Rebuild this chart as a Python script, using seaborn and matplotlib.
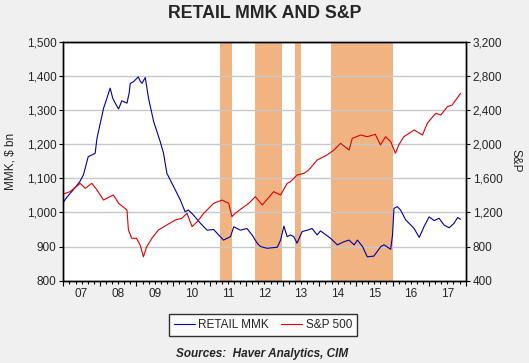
import matplotlib
matplotlib.use("Agg")
import matplotlib.pyplot as plt
import matplotlib.ticker as mticker
import seaborn as sns
import pandas as pd

# ---- data ----
mmk_t = [2007.0, 2007.1, 2007.27, 2007.45, 2007.55, 2007.68, 2007.87, 2007.92, 2008.10, 2008.19,
         2008.28, 2008.35, 2008.42, 2008.51, 2008.60, 2008.74, 2008.80, 2008.83, 2008.92, 2009.05,
         2009.10, 2009.15, 2009.24, 2009.33, 2009.47, 2009.65, 2009.74, 2009.83, 2010.06, 2010.20,
         2010.33, 2010.42, 2010.56, 2010.75, 2010.93, 2011.11, 2011.29, 2011.38, 2011.57, 2011.66,
         2011.84, 2012.02, 2012.16, 2012.30, 2012.39, 2012.57, 2012.85, 2012.94, 2013.03, 2013.12,
         2013.21, 2013.30, 2013.39, 2013.53, 2013.67, 2013.80, 2013.94, 2014.03, 2014.31, 2014.49,
         2014.67, 2014.81, 2014.95, 2015.04, 2015.18, 2015.31, 2015.49, 2015.68, 2015.77, 2015.95,
         2016.00, 2016.04, 2016.13, 2016.22, 2016.36, 2016.50, 2016.59, 2016.73, 2016.86, 2017.00,
         2017.14, 2017.27, 2017.41, 2017.55, 2017.68, 2017.78, 2017.86]
mmk_v = [1030, 1045, 1066, 1090, 1110, 1163, 1173, 1217, 1305, 1334,
         1364, 1335, 1320, 1303, 1327, 1320, 1350, 1378, 1383, 1397,
         1385, 1378, 1395, 1334, 1266, 1207, 1173, 1115, 1066, 1036,
         1002, 1007, 992, 968, 948, 950, 929, 919, 929, 958,
         948, 953, 934, 910, 900, 895, 898, 919, 960, 929,
         934, 929, 910, 944, 948, 953, 934, 946, 924, 905,
         914, 919, 905, 919, 900, 870, 872, 900, 905, 892,
         934, 1012, 1017, 1007, 978, 963, 953, 927, 958, 987,
         976, 983, 963, 955, 968, 985, 980]

spx_t = [2007.0, 2007.18, 2007.35, 2007.46, 2007.60, 2007.78, 2007.92, 2008.10, 2008.25, 2008.37,
         2008.51, 2008.62, 2008.74, 2008.78, 2008.87, 2009.00, 2009.10, 2009.19, 2009.28, 2009.42,
         2009.60, 2009.83, 2010.06, 2010.24, 2010.38, 2010.52, 2010.66, 2010.84, 2011.11, 2011.34,
         2011.52, 2011.61, 2011.70, 2011.88, 2012.07, 2012.25, 2012.44, 2012.75, 2012.94, 2013.12,
         2013.21, 2013.39, 2013.58, 2013.71, 2013.94, 2014.21, 2014.40, 2014.58, 2014.81, 2014.90,
         2015.13, 2015.31, 2015.53, 2015.67, 2015.81, 2015.95, 2016.08, 2016.17, 2016.31, 2016.59,
         2016.82, 2016.95, 2017.18, 2017.32, 2017.50, 2017.63, 2017.86]
spx_v = [1415, 1443, 1500, 1541, 1482, 1541, 1463, 1345, 1380, 1404,
         1307, 1270, 1228, 994, 897, 897, 818, 681, 798, 897,
         994, 1053, 1111, 1131, 1190, 1033, 1091, 1190, 1307, 1345,
         1307, 1150, 1190, 1248, 1307, 1384, 1287, 1443, 1404, 1541,
         1560, 1638, 1658, 1697, 1814, 1873, 1931, 2010, 1931, 2068,
         2107, 2087, 2115, 1990, 2087, 2029, 1893, 1990, 2087, 2166,
         2107, 2244, 2361, 2341, 2439, 2458, 2596]

shade_start = [2011.27, 2012.25, 2013.33, 2014.31]
shade_end = [2011.61, 2012.98, 2013.49, 2016.00]

year_labels = ["07", "08", "09", "10", "11", "12", "13", "14", "15", "16", "17"]
left_ticks = [800, 900, 1000, 1100, 1200, 1300, 1400, 1500]
right_ticks = [400, 800, 1200, 1600, 2000, 2400, 2800, 3200]

mmk_df = pd.DataFrame({"t": mmk_t, "v": mmk_v})
spx_df = pd.DataFrame({"t": spx_t, "v": spx_v})

# ---- style ----
sns.set_style("white")
plt.rcParams["font.family"] = ["Liberation Sans", "DejaVu Sans"]

BG = "#F0F0F0"
fig = plt.figure(figsize=(5.29, 3.63), dpi=100, facecolor=BG)
ax = fig.add_axes([0.1197, 0.2267, 0.7606, 0.6584])
ax.set_facecolor("white")

for s, e in zip(shade_start, shade_end):
    ax.axvspan(s, e, color="#F2B382", lw=0, zorder=0.2)

sns.lineplot(data=mmk_df, x="t", y="v", ax=ax, color="#0000A8", lw=0.8,
             label="RETAIL MMK", legend=False)
ax2 = ax.twinx()
sns.lineplot(data=spx_df, x="t", y="v", ax=ax2, color="#E00000", lw=0.8,
             label="S&P 500", legend=False)

ax.set_xlim(2007.0, 2018.0)
ax.set_ylim(800, 1500)
ax2.set_ylim(400, 3200)

ax.set_yticks(left_ticks)
ax2.set_yticks(right_ticks)
fmt = mticker.FuncFormatter(lambda v, p: f"{int(v):,}")
ax.yaxis.set_major_formatter(fmt)
ax2.yaxis.set_major_formatter(fmt)

ax.set_axisbelow(True)
ax.grid(axis="y", color="#C8C8C8", lw=1.0)
ax.grid(axis="x", visible=False)

# x ticks: year boundaries (major), bimonthly minor, labels at mid-year
years = list(range(2007, 2019))
ax.set_xticks(years)
ax.xaxis.set_major_formatter(mticker.NullFormatter())
minor_pos = [y + k / 6 for y in range(2007, 2018) for k in range(1, 6)]
ax.set_xticks(minor_pos, minor=True)


def minor_fmt(v, p):
    yr = int(round(v - 0.5))
    if abs(v - (yr + 0.5)) < 1e-6 and 0 <= yr - 2007 < len(year_labels):
        return year_labels[yr - 2007]
    return ""


ax.xaxis.set_minor_formatter(mticker.FuncFormatter(minor_fmt))

ax.tick_params(axis="x", which="major", direction="out", length=3.6, width=0.8,
               color="black", bottom=True)
ax.tick_params(axis="x", which="minor", direction="out", length=2.0, width=0.8,
               color="black", bottom=True, labelsize=8.5, pad=3)
ax.tick_params(axis="y", direction="out", length=3, width=0.8, color="black",
               left=True, labelsize=8.5, pad=2)
ax2.tick_params(axis="y", direction="out", length=3, width=0.8, color="black",
                right=True, labelsize=8.5, pad=2)

for a in (ax, ax2):
    for sp in a.spines.values():
        sp.set_visible(True)
        sp.set_color("black")
        sp.set_linewidth(1.0)

ax.set_xlabel("")
ax.set_ylabel("MMK, $ bn", fontsize=8.5, labelpad=7)
ax2.set_ylabel("S&P", fontsize=8.5, rotation=270, labelpad=14)

fig.text(0.5, 0.963, "RETAIL MMK AND S&P", ha="center", va="center",
         fontsize=12.8, fontweight="bold")

h1, l1 = ax.get_legend_handles_labels()
h2, l2 = ax2.get_legend_handles_labels()
leg = fig.legend(h1 + h2, l1 + l2, loc="center", bbox_to_anchor=(0.497, 0.105),
                 ncol=2, frameon=True, fancybox=False, fontsize=8.5,
                 handlelength=1.8, columnspacing=1.0, borderpad=0.4,
                 handletextpad=0.3)
leg.get_frame().set_edgecolor("black")
leg.get_frame().set_linewidth(1.0)
leg.get_frame().set_facecolor("white")

fig.text(0.495, 0.025, "Sources:  Haver Analytics, CIM", ha="center", va="center",
         fontsize=8.5, fontweight="bold", style="italic")

fig.savefig("out.png", dpi=100, facecolor=BG)
